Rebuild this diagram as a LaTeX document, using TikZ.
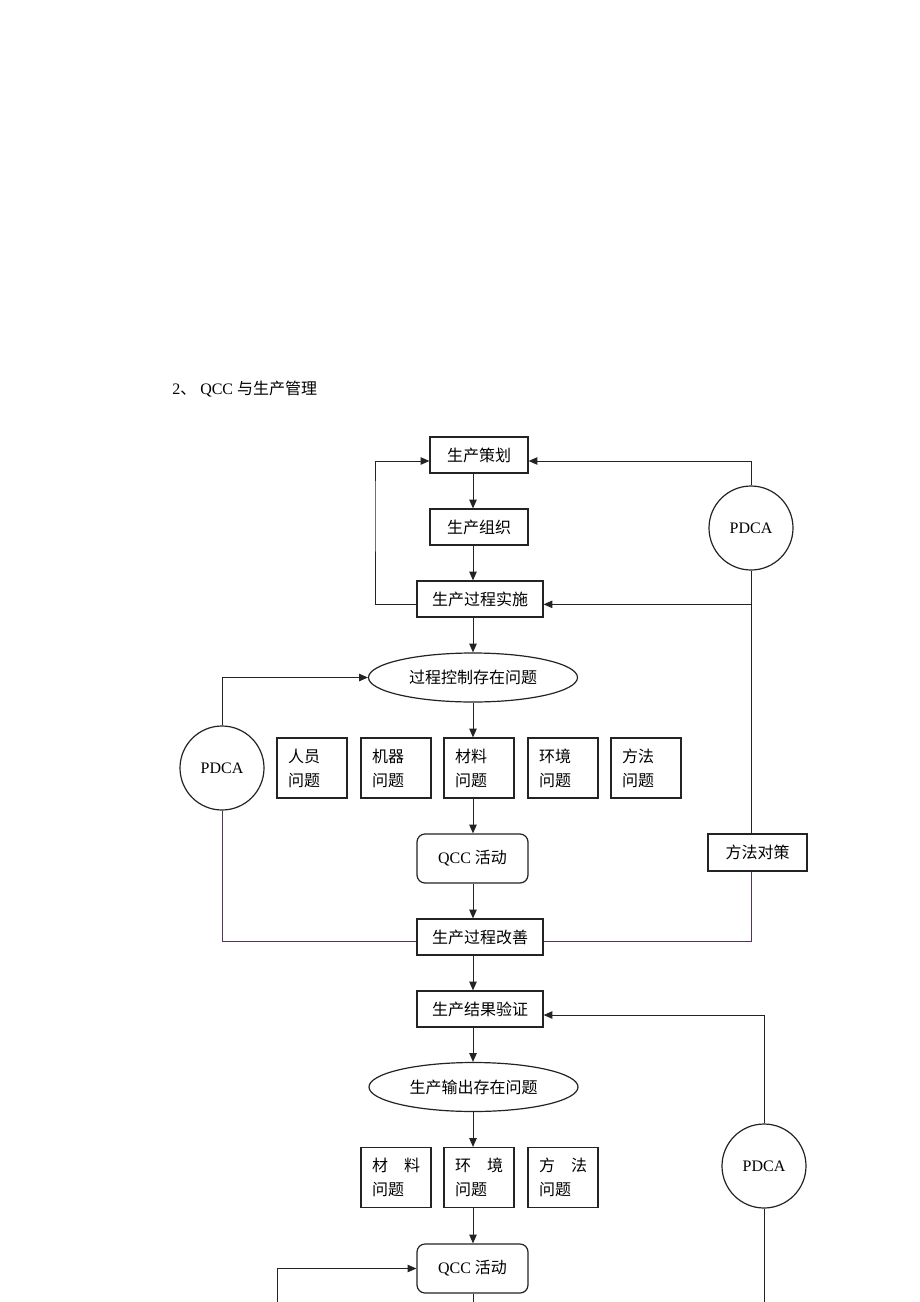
\documentclass[tikz,border=0pt]{standalone}
\usepackage{fontspec}
\setmainfont{Liberation Serif}
\newfontfamily\cjk{Noto Sans CJK SC}
\usetikzlibrary{arrows.meta,shapes.geometric}
\definecolor{linegray}{RGB}{35,35,35}
\definecolor{linepurple}{RGB}{80,55,90}
\newcommand{\zh}[1]{{\cjk #1}}

\begin{document}
\begin{tikzpicture}[x=0.75pt, y=-0.75pt, >={Triangle[length=6.5pt,width=5.5pt]},
  every node/.style={font=\fontsize{12}{14}\selectfont},
  box/.style={draw=linegray, line width=0.9pt, minimum width=73.5pt, minimum height=27pt, inner sep=0pt},
  widebox/.style={box, minimum width=94.5pt},
  qbox/.style={draw=linegray, line width=0.9pt, align=left, text width=36pt, inner xsep=8.25pt,
    minimum height=45pt, font=\fontsize{12}{18}\selectfont},
  roundbox/.style={draw=linegray, line width=0.9pt, rounded corners=6pt, minimum width=83.25pt, minimum height=36.75pt},
  ellip/.style={draw=linegray, line width=0.9pt, ellipse, minimum width=156.75pt, minimum height=36.75pt, inner sep=0pt},
  pdca/.style={draw=linegray, line width=0.9pt, circle, minimum size=63pt, inner sep=0pt},
  link/.style={draw=linegray, line width=0.75pt}]
  \useasboundingbox[fill=white] (0,0) rectangle (920,1302);
  \coordinate (spine) at (473,0);
  \coordinate (edge) at (0,1302);
  \coordinate (feed) at (277,1302);

  \node[anchor=west, inner xsep=0pt] (title) at (172,389) {2\zh{、} QCC \zh{与生产管理}};

  % planning loop
  \node[box] (plan) at (479,455) {\zh{生产策划}};
  \node[box] (org) at (479,527) {\zh{生产组织}};
  \node[widebox] (impl) at (480,599) {\zh{生产过程实施}};
  \node[pdca] (pdca1) at (751,528) {PDCA};
  \node[ellip] (ell1) at (473,677.5) {\zh{过程控制存在问题}};
  \node[pdca] (pdca2) at (222,768) {PDCA};
  \foreach \n/\x/\t in {1/312/人员, 2/396/机器, 3/479/材料, 4/563/环境, 5/646/方法}
    \node[qbox] (q\n) at (\x,768) {\zh{\t}\\\zh{问题}};
  \node[roundbox] (qcc1) at (472.5,858.5) {QCC \zh{活动}};
  \node[box, minimum width=74.25pt, minimum height=27.75pt] (meth) at (757.5,852.5) {\zh{方法对策}};
  \node[widebox] (imp) at (480,937) {\zh{生产过程改善}};

  % result loop
  \node[widebox] (ver) at (480,1009) {\zh{生产结果验证}};
  \node[ellip] (ell2) at (473.5,1087) {\zh{生产输出存在问题}};
  \foreach \n/\x/\t in {1/396/材　料, 2/479/环　境, 3/563/方　法}
    \node[qbox] (r\n) at (\x,1177.5) {\zh{\t}\\\zh{问题}};
  \node[pdca] (pdca3) at (764,1166) {PDCA};
  \node[roundbox] (qcc2) at (472.5,1268.5) {QCC \zh{活动}};

  % main chain
  \draw[link,->] (plan.south -| spine) -- (org.north -| spine);
  \draw[link,->] (org.south -| spine) -- (impl.north -| spine);
  \draw[link,->] (impl.south -| spine) -- (ell1.north -| spine);
  \draw[link,->] (ell1.south -| spine) -- (q3.north -| spine);
  \draw[link,->] (q3.south -| spine) -- (qcc1.north -| spine);
  \draw[link,->] (qcc1.south -| spine) -- (imp.north -| spine);
  \draw[link,->] (imp.south -| spine) -- (ver.north -| spine);
  \draw[link,->] (ver.south -| spine) -- (ell2.north -| spine);
  \draw[link,->] (ell2.south -| spine) -- (r2.north -| spine);
  \draw[link,->] (r2.south -| spine) -- (qcc2.north -| spine);
  \draw[link] (qcc2.south -| spine) -- (spine |- edge);

  % feedback
  \draw[link,->] ([yshift=-4pt]impl.west) -| (375,500) |- ([yshift=-4.5pt]plan.west);
  \draw[link,->] (pdca1.north) |- ([yshift=-4.5pt]plan.east);
  \draw[link,->] (pdca1.south) |- ([yshift=-4pt]impl.east);
  \draw[link] (pdca1.south) -- (meth.north -| pdca1.south);
  \draw[linepurple, line width=0.75pt] (meth.south -| pdca1.south) |- ([yshift=-3pt]imp.east);
  \draw[link,->] (pdca2.north) |- (ell1.west);
  \draw[linepurple, line width=0.75pt] (pdca2.south) |- ([yshift=-3pt]imp.west);
  \draw[link,->] (pdca3.north) |- ([yshift=-4.5pt]ver.east);
  \draw[link] (pdca3.south) -- (pdca3.south |- edge);
  \draw[link,->] (feed) |- (qcc2.west);
\end{tikzpicture}
\end{document}
